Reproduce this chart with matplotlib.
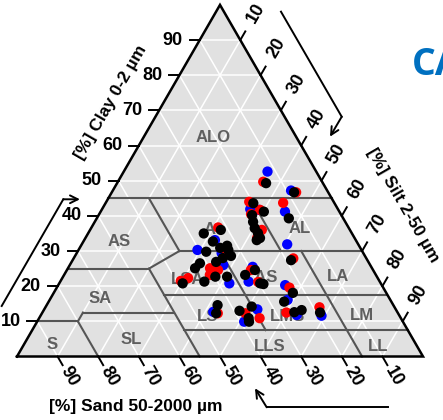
import numpy as np
import matplotlib
matplotlib.use("Agg")
import matplotlib.pyplot as plt

plt.rcParams['font.family'] = ['Liberation Sans', 'DejaVu Sans']

# texture class boundaries, GEPPA triangle: (clay, sand) pairs in %
seg_clay1 = [45, 45, 45, 30, 30, 25, 25, 17.5, 30, 30, 12.5, 12.5, 10, 10, 7.5]
seg_sand1 = [55, 45, 20, 45, 45, 75, 55, 55, 35, 15, 77.5, 77.5, 90, 80, 55]
seg_clay2 = [45, 30, 30, 30, 25, 25, 0, 17.5, 7.5, 0, 12.5, 10, 10, 0, 7.5]
seg_sand2 = [0, 45, 20, 0, 55, 55, 55, 0, 35, 15, 55, 80, 80, 80, 0]

class_names = ['ALO', 'A', 'AL', 'AS', 'LSA', 'LAS', 'LA', 'SA', 'LS', 'LMS',
               'LM', 'S', 'SL', 'LLS', 'LL']
class_clay = [62.4, 36, 36.3, 32.7, 21.8, 22.6, 22.7, 16.6, 11.3, 11.3,
              11.8, 3.3, 4.7, 2.8, 2.8]
class_silt = [17.1, 29.5, 51.5, 8.8, 31, 49, 67.7, 12.1, 41.4, 61,
              79, 6.9, 25.7, 60.9, 87.5]

# samples (clay %, silt %)
black_clay = [49.3, 46.7, 43.6, 39.3, 41.2, 40.2, 38.3, 36.5, 35.1, 33.7, 33.1, 27.4,
              36.0, 32.7, 29.8, 30.9, 30.3, 28.6, 28.0, 26.9, 25.1, 26.5, 22.7, 22.7,
              21.3, 20.8, 23.2, 24.6, 20.8, 20.6, 18.1, 15.6, 14.6, 12.3, 13.0, 14.2,
              10.9, 12.6, 13.2, 12.5, 9.9, 35.0, 31.5]
black_silt = [36.7, 44.9, 36.4, 47.3, 40.2, 37.8, 39.0, 40.3, 41.8, 43.0, 42.5, 53.8,
              32.2, 31.9, 31.7, 34.6, 36.9, 38.4, 36.7, 35.6, 31.3, 31.8, 37.5, 40.4,
              35.5, 30.4, 44.6, 46.3, 49.5, 50.4, 58.9, 58.0, 42.1, 42.9, 48.3, 50.7,
              51.6, 62.0, 63.5, 68.4, 52.2, 28.5, 36.0]
red_clay = [49.7, 46.7, 44.0, 43.7, 41.7, 40.5, 36.0, 33.7, 36.7, 27.9, 23.2, 24.6,
            22.3, 21.5, 29.7, 24.6, 21.2, 19.6, 12.3, 12.3, 10.9, 12.5, 14.0, 25.1]
red_silt = [35.8, 45.4, 35.2, 43.7, 39.0, 37.4, 42.3, 42.3, 31.2, 54.1, 35.9, 37.2,
            31.0, 29.6, 36.9, 45.3, 48.8, 57.3, 43.3, 50.1, 54.3, 60.1, 67.5, 35.0]
blue_clay = [52.6, 47.2, 41.2, 41.9, 41.7, 31.9, 33.1, 30.3, 26.0, 20.8, 25.5, 21.3,
             20.3, 16.1, 12.7, 9.9, 13.4, 11.8, 11.6, 29.4]
blue_silt = [35.4, 43.9, 45.4, 36.5, 38.8, 50.6, 32.2, 29.3, 37.8, 41.9, 45.3, 46.4,
             55.9, 58.6, 42.0, 51.0, 52.5, 63.0, 69.2, 35.7]

ticks = [10, 20, 30, 40, 50, 60, 70, 80, 90]

H = np.sqrt(3) / 2


def tern(clay, silt):
    clay = np.asarray(clay, dtype=float) / 100
    silt = np.asarray(silt, dtype=float) / 100
    return silt + clay / 2, clay * H


fig = plt.figure(figsize=(4.43, 4.20), dpi=100)
ax = fig.add_axes([0, 0, 1, 1])
ax.set_xlim(-17 / 406, 426 / 406)
ax.set_ylim((356.5 - 420) / 406, 356.5 / 406)
ax.axis('off')

# background triangle
tx, ty = tern([0, 0, 100, 0], [0, 100, 0, 0])
ax.fill(tx, ty, color='#e1e1e1', zorder=0)

# white grid
for v in ticks:
    gx, gy = tern([v, v], [0, 100 - v])
    ax.plot(gx, gy, color='white', lw=1.1, zorder=1)
    gx, gy = tern([0, 100 - v], [v, v])
    ax.plot(gx, gy, color='white', lw=1.1, zorder=1)
    gx, gy = tern([0, 100 - v], [100 - v, 0])
    ax.plot(gx, gy, color='white', lw=1.1, zorder=1)

# class boundaries
for c1, s1, c2, s2 in zip(seg_clay1, seg_sand1, seg_clay2, seg_sand2):
    bx, by = tern([c1, c2], [100 - c1 - s1, 100 - c2 - s2])
    ax.plot(bx, by, color='#555555', lw=1.5, zorder=2)

ax.plot(tx, ty, color='black', lw=1.8, zorder=3, solid_joinstyle='miter')

for name, c, s in zip(class_names, class_clay, class_silt):
    lx, ly = tern(c, s)
    ax.text(lx, ly, name, color='#5f5f5f', fontsize=12, fontweight='bold',
            ha='center', va='center', zorder=2)

# ticks and tick labels
tl = 10 / 406
for v in ticks:
    # clay, left edge
    x0, y0 = tern(v, 0)
    ax.plot([x0, x0 - tl], [y0, y0], color='black', lw=1.4)
    ax.text(x0 - 0.066, y0, str(v), fontsize=13, fontweight='bold',
            ha='center', va='center')
    # silt, right edge
    x0, y0 = tern(100 - v, v)
    ax.plot([x0, x0 + tl * 0.5], [y0, y0 + tl * H], color='black', lw=1.4)
    ax.text(x0 + 0.076 * 0.5, y0 + 0.076 * H, str(v), fontsize=13,
            fontweight='bold', ha='center', va='center', rotation=60)
    # sand, base
    x0, y0 = tern(0, 100 - v)
    ax.plot([x0, x0 + tl * 0.5], [y0, y0 - tl * H], color='black', lw=1.4)
    ax.text(x0 + 0.056 * 0.5, y0 - 0.056 * H, str(v), fontsize=13,
            fontweight='bold', ha='center', va='center', rotation=-60)

# axis titles
ax.text(0.2315, 0.627, '[%] Clay 0-2 µm', fontsize=12.5, fontweight='bold',
        rotation=60, ha='center', va='center')
ax.text(0.951, 0.373, '[%] Silt 2-50 µm', fontsize=12.5, fontweight='bold',
        rotation=-60, ha='center', va='center')
ax.text(0.293, -0.124, '[%] Sand 50-2000 µm', fontsize=12.5, fontweight='bold',
        ha='center', va='center')

# direction arrows
arrows = [
    ([-0.0377, 0.114], [0.1244, 0.3872], (0.155, 0.3872)),
    ([0.6502, 0.7998], [0.8493, 0.5906], (0.7709, 0.5414)),
    ([0.9145, 0.615], [-0.1251, -0.1251], (0.5862, -0.0783)),
]
for xs, ys, tip in arrows:
    ax.plot(xs, ys, color='black', lw=1.4)
    ax.annotate('', xy=tip, xytext=(xs[1], ys[1]),
                arrowprops=dict(arrowstyle='->', color='black', lw=1.4,
                                shrinkA=0, shrinkB=0, mutation_scale=14))

# samples
for cl, si, col in [(blue_clay, blue_silt, '#0000ff'),
                    (red_clay, red_silt, '#ff0000'),
                    (black_clay, black_silt, 'black')]:
    px, py = tern(cl, si)
    ax.scatter(px, py, s=55, color=col, edgecolors='none', zorder=5)

fig.text(411.7 / 443, 1 - 75 / 420, 'CA', color='#0070c0', fontsize=27,
         fontweight='bold', family=['Open Sans', 'DejaVu Sans'],
         ha='left', va='baseline')

fig.savefig('out.png', dpi=100)
